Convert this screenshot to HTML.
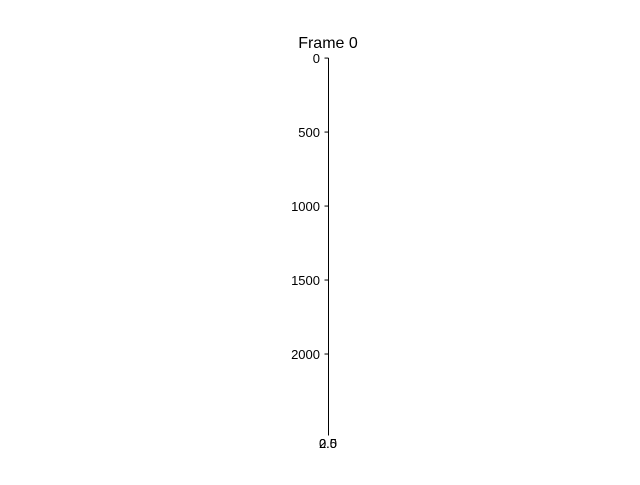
<!DOCTYPE html>
<html><head><meta charset="utf-8"><style>
body{margin:0;background:#fff}
svg text{font-family:"Liberation Sans","DejaVu Sans",sans-serif;font-size:13px;fill:#000}
</style></head><body>
<svg width="640" height="480" xmlns="http://www.w3.org/2000/svg">
<text x="328" y="48" text-anchor="middle" style="font-size:16px">Frame 0</text>
<g id="ax"></g>
</svg>
<script>
const yTicks=[0,500,1000,1500,2000];
const xTickLabels=["0.0","2.5"];
const yMin=-0.5, yMax=2527;
const yTop=58,yBottom=432,axX=328;
const ns="http://www.w3.org/2000/svg";
const g=document.getElementById('ax');
function yPos(v){return yTop+(v-yMin)/(yMax-yMin)*(yBottom-yTop);}
function add(tag,attrs,txt){const e=document.createElementNS(ns,tag);for(const k in attrs)e.setAttribute(k,attrs[k]);if(txt!==undefined)e.textContent=txt;g.appendChild(e);return e;}
const sp=add('line',{x1:axX+0.5,x2:axX+0.5,y1:yTop,y2:yBottom,stroke:'#000','stroke-width':1});


yTicks.forEach(v=>{
  const t=add('line',{x1:axX-3.5,x2:axX+0.5,y1:yPos(v),y2:yPos(v),stroke:'#000','stroke-width':1});
  
  
  const l=add('text',{x:axX-8,y:yPos(v)+5,'text-anchor':'end'},String(v));
  
  
});
const xt=add('line',{x1:axX+0.5,x2:axX+0.5,y1:yBottom,y2:yBottom+3.5,stroke:'#000','stroke-width':1});


xTickLabels.forEach(s=>{
  const l=add('text',{x:axX,y:yBottom+16,'text-anchor':'middle'},s);
  
  
});
</script>
</body></html>
